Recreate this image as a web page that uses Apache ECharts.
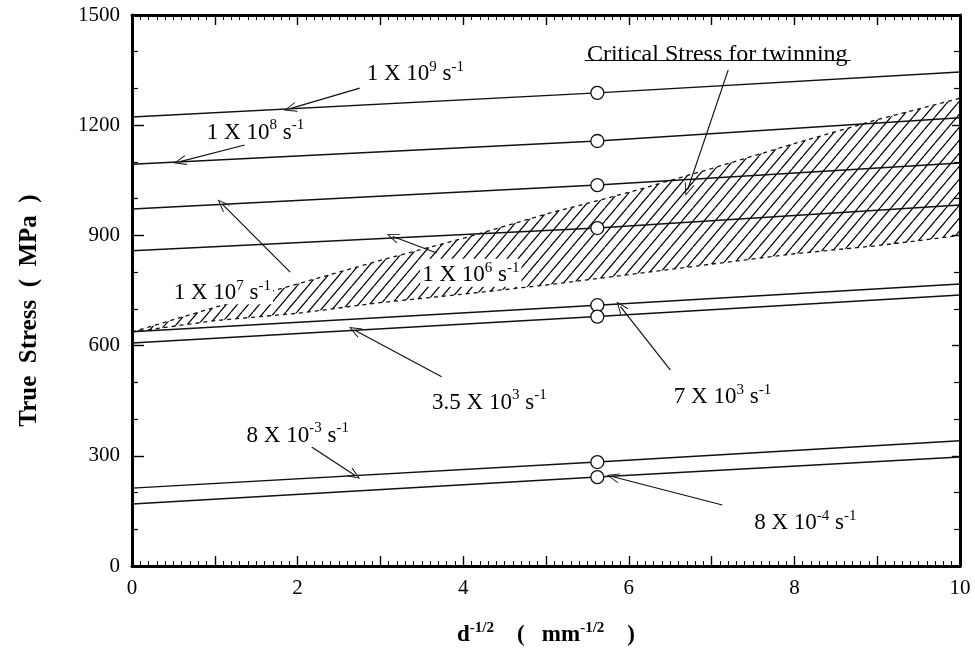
<!DOCTYPE html>
<html>
<head>
<meta charset="utf-8">
<script src="https://cdn.jsdelivr.net/npm/echarts@6/dist/echarts.min.js"></script>
<style>html,body{margin:0;padding:0;background:#fff}#c{width:975px;height:657px}</style>
</head>
<body>
<div id="c"></div>
<script>
// ---- data ----
var lineX = [0, 5.62, 10];
var rate1e9 = [1222, 1288, 1345];
var rate1e8 = [1094, 1157, 1220];
var rate1e7 = [972, 1037, 1097];
var rate1e6 = [858, 920, 983];
var rate7e3 = [638, 710, 768];
var rate35e2 = [607, 679, 738];
var rate8em3 = [212, 283, 341];
var rate8em4 = [169, 242, 297];
var circleX = 5.62;
var circleY = [1288, 1157, 1037, 920, 710, 679, 283, 242];
var twinX = [0, 1, 2, 3, 4, 5, 6, 7, 8, 9, 10];
var twinUpper = [637, 704, 768, 832, 892, 958, 1017, 1082, 1150, 1215, 1273];
var twinLower = [637, 668, 688, 717, 740, 765, 793, 822, 850, 872, 900];
var xTicks = [0, 2, 4, 6, 8, 10];
var yTicks = [0, 300, 600, 900, 1200, 1500];

// annotations: text anchor (left, middle) and arrow [from, to]
var annText = [
  '{b|1 X 10}{s|9}{b| s}{s|-1}',
  '{b|1 X 10}{s|8}{b| s}{s|-1}',
  '{b|1 X 10}{s|7}{b| s}{s|-1}',
  '{b|1 X 10}{s|6}{b| s}{s|-1}',
  '{b|3.5 X 10}{s|3}{b| s}{s|-1}',
  '{b|7 X 10}{s|3}{b| s}{s|-1}',
  '{b|8 X 10}{s|-3}{b| s}{s|-1}',
  '{b|8 X 10}{s|-4}{b| s}{s|-1}',
  '{c|Critical Stress for twinning}'
];
var annPos = [[2.81, 1345], [0.88, 1187], [0.48, 751], [3.48, 798], [3.6, 452], [6.52, 466], [1.36, 362], [7.49, 125], [5.47, 1397]];
var arrows = [
  [[2.75, 1301], [1.91, 1245]],
  [[1.36, 1146], [0.58, 1101]],
  [[1.91, 800], [1.09, 985]],
  [[3.68, 852], [3.15, 897]],
  [[3.74, 515], [2.69, 642]],
  [[6.5, 534], [5.9, 706]],
  [[2.17, 324], [2.69, 247]],
  [[7.13, 166], [5.81, 243]],
  [[7.2, 1350], [6.71, 1024]]
];
var underline = [[5.47, 1376], [8.68, 1376]];

// ---- chart ----
var serif = '"Liberation Serif", "DejaVu Serif", serif';
var pat = document.createElement('canvas');
pat.width = 11; pat.height = 13;
(function () {
  var g = pat.getContext('2d');
  g.strokeStyle = '#000'; g.lineWidth = 1.2;
  [-11, 0, 11].forEach(function (o) {
    g.beginPath(); g.moveTo(o, 13); g.lineTo(o + 11, 0); g.stroke();
  });
})();

function pts(ys) { return lineX.map(function (x, i) { return [x, ys[i]]; }); }
var rates = [rate1e9, rate1e8, rate1e7, rate1e6, rate7e3, rate35e2, rate8em3, rate8em4];
var series = [];
series.push({
  type: 'custom', z: 1, silent: true,
  data: twinX.map(function (x, i) { return [x, twinLower[i], twinUpper[i]]; }),
  encode: { x: 0, y: [1, 2] },
  renderItem: function (params, api) {
    if (params.dataIndex !== 0) return null;
    var top = [], bot = [];
    for (var i = 0; i < twinX.length; i++) {
      top.push(api.coord([twinX[i], twinUpper[i]]));
      bot.push(api.coord([twinX[i], twinLower[i]]));
    }
    return { type: 'polygon', shape: { points: top.concat(bot.reverse()) },
      style: { fill: { image: pat, repeat: 'repeat' }, stroke: null, opacity: 1 } };
  }
});
series.push({
  type: 'line', symbol: 'none', z: 2,
  data: twinX.map(function (x, i) { return [x, twinLower[i]]; }),
  lineStyle: { color: '#111', width: 1.3, type: [4, 4] }
});
series.push({
  type: 'line', symbol: 'none', z: 2,
  data: twinX.map(function (x, i) { return [x, twinUpper[i]]; }),
  lineStyle: { color: '#111', width: 1.3, type: [4, 4] }
});
rates.forEach(function (r) {
  series.push({ type: 'line', symbol: 'none', data: pts(r), z: 3,
    lineStyle: { color: '#111', width: 1.5 } });
});
series.push({
  type: 'scatter', z: 5, symbol: 'circle', symbolSize: 13,
  itemStyle: { color: '#fff', borderColor: '#111', borderWidth: 1.3, opacity: 1 },
  data: circleY.map(function (y) { return [circleX, y]; })
});
var arrowHead = 'path://M0,0 L5,10 L4.2,10.4 L0,2 L-4.2,10.4 L-5,10 Z';
series.push({
  type: 'scatter', z: 10, symbolSize: 0,
  itemStyle: { opacity: 1 },
  data: annPos.map(function (p, i) {
    return i === annPos.length - 1 ? { value: p, label: { backgroundColor: 'transparent' } } : { value: p };
  }),
  label: {
    show: true, position: 'right', distance: 0, color: '#000', textBorderWidth: 0, opacity: 1,
    formatter: function (p) { return annText[p.dataIndex]; },
    backgroundColor: '#fff', padding: [2, 2, 0, 2],
    rich: {
      b: { fontFamily: serif, fontSize: 23, color: '#000', lineHeight: 26, verticalAlign: 'bottom' },
      c: { fontFamily: serif, fontSize: 24, color: '#000', lineHeight: 26, verticalAlign: 'bottom' },
      s: { fontFamily: serif, fontSize: 15, color: '#000', lineHeight: 15, verticalAlign: 'top' }
    }
  },
  markLine: {
    silent: true, animation: false, symbol: ['none', arrowHead], symbolSize: [10, 13],
    lineStyle: { color: '#111', width: 1.2, type: 'solid', opacity: 1 },
    itemStyle: { opacity: 1 },
    label: { show: false },
    data: arrows.map(function (a) { return [{ coord: a[0] }, { coord: a[1] }]; })
      .concat([[{ coord: underline[0], symbol: 'none' }, { coord: underline[1], symbol: 'none' }]])
  }
});

var axisLine = { show: true, onZero: false, lineStyle: { color: '#000', width: 3 } };
var tickStyle = { color: '#000', width: 1.4 };
var chart = echarts.init(document.getElementById('c'), null, { renderer: 'canvas' });
chart.setOption({
  animation: false,
  backgroundColor: '#fff',
  grid: { left: 132, right: 15, top: 15, bottom: 91 },
  xAxis: [{
    type: 'value', min: 0, max: 10, interval: 1,
    axisLine: axisLine,
    axisTick: { inside: true, length: 10, lineStyle: tickStyle },
    minorTick: { show: true, splitNumber: 10, length: 5, lineStyle: { color: '#000', width: 1 } },
    splitLine: { show: false },
    axisLabel: { margin: 12, fontFamily: serif, fontSize: 21, color: '#000',
      formatter: function (v) { return xTicks.indexOf(v) >= 0 ? String(v) : ''; } },
    name: '{b|d}{s|-1/2}{b|    (   mm}{s|-1/2}{b|    )}', nameLocation: 'middle', nameGap: 55,
    nameTextStyle: { rich: {
      b: { fontFamily: serif, fontSize: 23, fontWeight: 'bold', color: '#000', lineHeight: 26, verticalAlign: 'bottom' },
      s: { fontFamily: serif, fontSize: 15, fontWeight: 'bold', color: '#000', lineHeight: 15, verticalAlign: 'top' }
    } }
  }, {
    type: 'value', position: 'top', min: 0, max: 10, interval: 1,
    axisLine: axisLine,
    axisTick: { inside: true, length: 10, lineStyle: tickStyle },
    minorTick: { show: true, splitNumber: 10, length: 5, lineStyle: { color: '#000', width: 1 } },
    splitLine: { show: false }, axisLabel: { show: false }
  }],
  yAxis: [{
    type: 'value', min: 0, max: 1500, interval: 300,
    axisLine: axisLine,
    axisTick: { inside: true, length: 12, lineStyle: tickStyle },
    minorTick: { show: true, splitNumber: 3, length: 6, lineStyle: { color: '#000', width: 1.2 } },
    splitLine: { show: false },
    axisLabel: { margin: 12, fontFamily: serif, fontSize: 21, color: '#000',
      formatter: function (v) { return yTicks.indexOf(v) >= 0 ? String(v) : ''; } },
    name: 'True  Stress  (  MPa  )', nameLocation: 'middle', nameGap: 90, nameRotate: 90,
    nameTextStyle: { fontFamily: serif, fontSize: 25, fontWeight: 'bold', color: '#000', padding: [0, 40, 0, 0] }
  }, {
    type: 'value', position: 'right', min: 0, max: 1500, interval: 300,
    axisLine: axisLine,
    axisTick: { inside: true, length: 8, lineStyle: tickStyle },
    minorTick: { show: true, splitNumber: 3, length: 6, lineStyle: { color: '#000', width: 1.2 } },
    splitLine: { show: false }, axisLabel: { show: false }
  }],
  series: series
});
</script>
</body>
</html>
